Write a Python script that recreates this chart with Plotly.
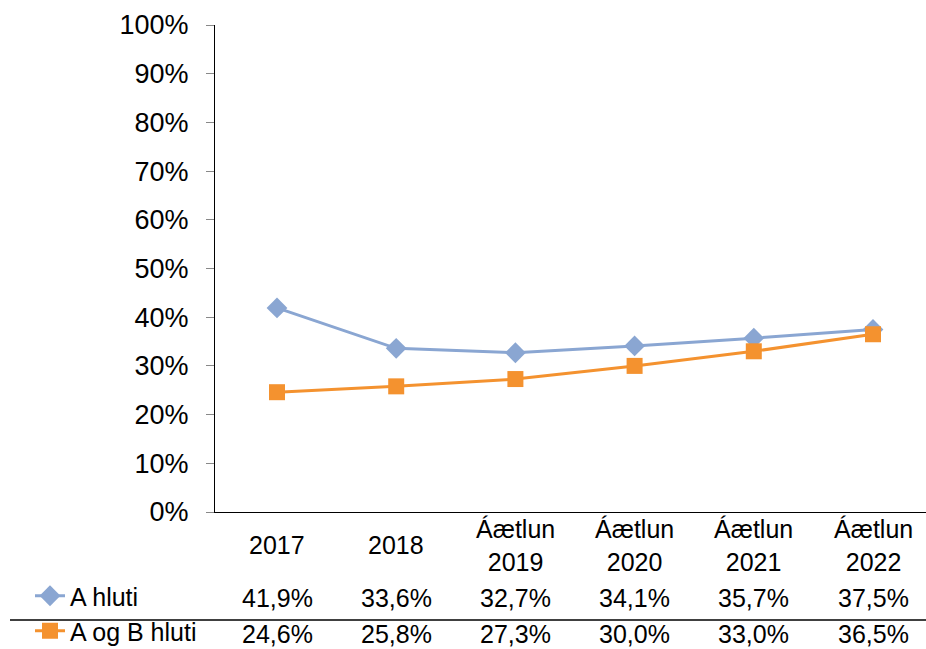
import plotly.graph_objects as go

categories = ["2017", "2018", "Áætlun<br>2019", "Áætlun<br>2020", "Áætlun<br>2021", "Áætlun<br>2022"]
a_hluti = [41.9, 33.6, 32.7, 34.1, 35.7, 37.5]
a_og_b_hluti = [24.6, 25.8, 27.3, 30.0, 33.0, 36.5]
series_names = ["A hluti", "A og B hluti"]
y_ticks = [0, 10, 20, 30, 40, 50, 60, 70, 80, 90, 100]

W, H = 926, 649
L, R, T, B = 215, 0, 25, 137
plot_w = W - L - R
plot_h = H - T - B
FONT = "Liberation Sans, Arial, sans-serif"
BLUE = "#8AA6D2"
ORANGE = "#F4922F"

def py(pix):
    return (H - B - pix) / plot_h

def px(pix):
    return (pix - L) / plot_w

xs = list(range(len(categories)))
fig = go.Figure()
fig.add_trace(go.Scatter(
    x=xs, y=[v / 100 for v in a_hluti], name=series_names[0], mode="lines+markers",
    line=dict(color=BLUE, width=3),
    marker=dict(symbol="diamond", size=16, color=BLUE),
    legend="legend", cliponaxis=False))
fig.add_trace(go.Scatter(
    x=xs, y=[v / 100 for v in a_og_b_hluti], name=series_names[1], mode="lines+markers",
    line=dict(color=ORANGE, width=3),
    marker=dict(symbol="square", size=16, color=ORANGE),
    legend="legend2", cliponaxis=False))

# category centres in reference: 277 (first) with 119.2 px spacing
units = plot_w / 119.2
x0 = -0.5 - (277 - 59.6 - L) / 119.2
fig.update_xaxes(range=[x0, x0 + units], showticklabels=False, showgrid=False,
                 zeroline=False, showline=True, linecolor="black", linewidth=1.3, ticks="",
                 automargin=False)
fig.update_yaxes(range=[0, 1], tickvals=[t / 100 for t in y_ticks],
                 ticktext=[f"{t}%" for t in y_ticks], showgrid=False, zeroline=False,
                 showline=True, linecolor="black", linewidth=1.3, ticks="outside",
                 ticklen=8, tickcolor="#888888", tickfont=dict(size=27, color="black", family=FONT),
                 ticklabelstandoff=12, automargin=False)

TF = dict(size=25, family=FONT, color="black")
anns = []
for i, c in enumerate(categories):
    anns.append(dict(x=i, y=py(545), xref="x", yref="paper", text=c, showarrow=False,
                     yanchor="middle", xanchor="center", font=TF))
for vals, ypix in [(a_hluti, 598), (a_og_b_hluti, 634)]:
    for i, v in enumerate(vals):
        anns.append(dict(x=i, y=py(ypix), xref="x", yref="paper",
                         text=f"{v:.1f}%".replace(".", ","), showarrow=False,
                         yanchor="middle", xanchor="center", font=TF))

shapes = [dict(type="line", xref="paper", yref="paper", x0=px(10), x1=1, y0=py(620), y1=py(620),
               line=dict(color="black", width=1.3))]

leg_common = dict(font=dict(size=25, family=FONT, color="black"), bgcolor="rgba(0,0,0,0)",
                  xanchor="left", yanchor="middle", itemwidth=30, borderwidth=0)

fig.update_layout(
    width=W, height=H, margin=dict(l=L, r=R, t=T, b=B, autoexpand=False),
    paper_bgcolor="white", plot_bgcolor="white",
    font=dict(family=FONT, color="black"),
    annotations=anns, shapes=shapes,
    legend=dict(x=px(30), y=py(596), **leg_common),
    legend2=dict(x=px(30), y=py(631), **leg_common),
    showlegend=True,
)
fig.write_html("out.html", config={"displayModeBar": False},
               post_script="document.body.style.margin='0';document.body.style.overflow='hidden';")
